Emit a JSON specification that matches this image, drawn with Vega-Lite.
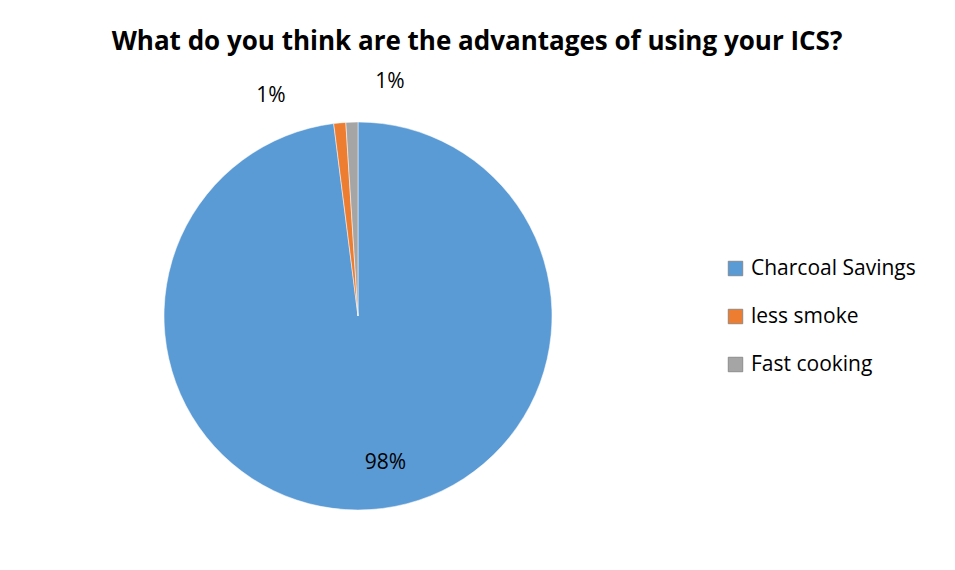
{
  "$schema": "https://vega.github.io/schema/vega-lite/v6.json",
  "width": 388,
  "height": 388,
  "autosize": "none",
  "padding": {"left": 164, "top": 122, "right": 403, "bottom": 60},
  "background": "white",
  "title": {
    "text": "What do you think are the advantages of using your ICS?",
    "font": "Open Sans",
    "fontSize": 26,
    "fontWeight": "bold",
    "color": "#000000",
    "anchor": "middle",
    "baseline": "alphabetic",
    "dx": 119,
    "offset": -5
  },
  "data": {
    "values": [
      {"category": "Charcoal Savings", "pct": 98, "rank": 1, "label": "98%"},
      {"category": "less smoke", "pct": 1, "rank": 2, "label": "1%"},
      {"category": "Fast cooking", "pct": 1, "rank": 3, "label": "1%"}
    ]
  },
  "encoding": {
    "theta": {"field": "pct", "type": "quantitative", "stack": true},
    "order": {"field": "rank", "type": "quantitative"}
  },
  "layer": [
    {
      "mark": {"type": "arc", "outerRadius": 194, "stroke": "#ffffff", "strokeWidth": 0.5},
      "encoding": {
        "color": {
          "field": "category",
          "type": "nominal",
          "scale": {
            "domain": ["Charcoal Savings", "less smoke", "Fast cooking"],
            "range": ["#5B9BD5", "#ED7D31", "#A5A5A5"]
          },
          "legend": {
            "title": null,
            "orient": "none",
            "legendX": 561,
            "legendY": 136,
            "symbolType": "square",
            "symbolSize": 210,
            "symbolStrokeWidth": 0.8,
            "symbolStrokeColor": "#7f7f7f",
            "labelFont": "Open Sans",
            "labelFontSize": 21,
            "labelColor": "#000000",
            "labelOffset": 5,
            "labelLimit": 0,
            "rowPadding": 26,
            "padding": 0
          }
        }
      }
    },
    {
      "transform": [{"filter": "datum.rank == 1"}],
      "mark": {"type": "text", "radius": 149, "font": "Open Sans", "fontSize": 21, "color": "#000000", "dx": 18, "dy": -2},
      "encoding": {"text": {"field": "label"}}
    },
    {
      "transform": [{"filter": "datum.rank == 2"}],
      "mark": {"type": "text", "radius": 220, "font": "Open Sans", "fontSize": 21, "color": "#000000", "dx": -94, "dy": 0},
      "encoding": {"text": {"field": "label"}}
    },
    {
      "transform": [{"filter": "datum.rank == 3"}],
      "mark": {"type": "text", "radius": 220, "font": "Open Sans", "fontSize": 21, "color": "#000000", "dx": 25, "dy": -14},
      "encoding": {"text": {"field": "label"}}
    }
  ]
}
